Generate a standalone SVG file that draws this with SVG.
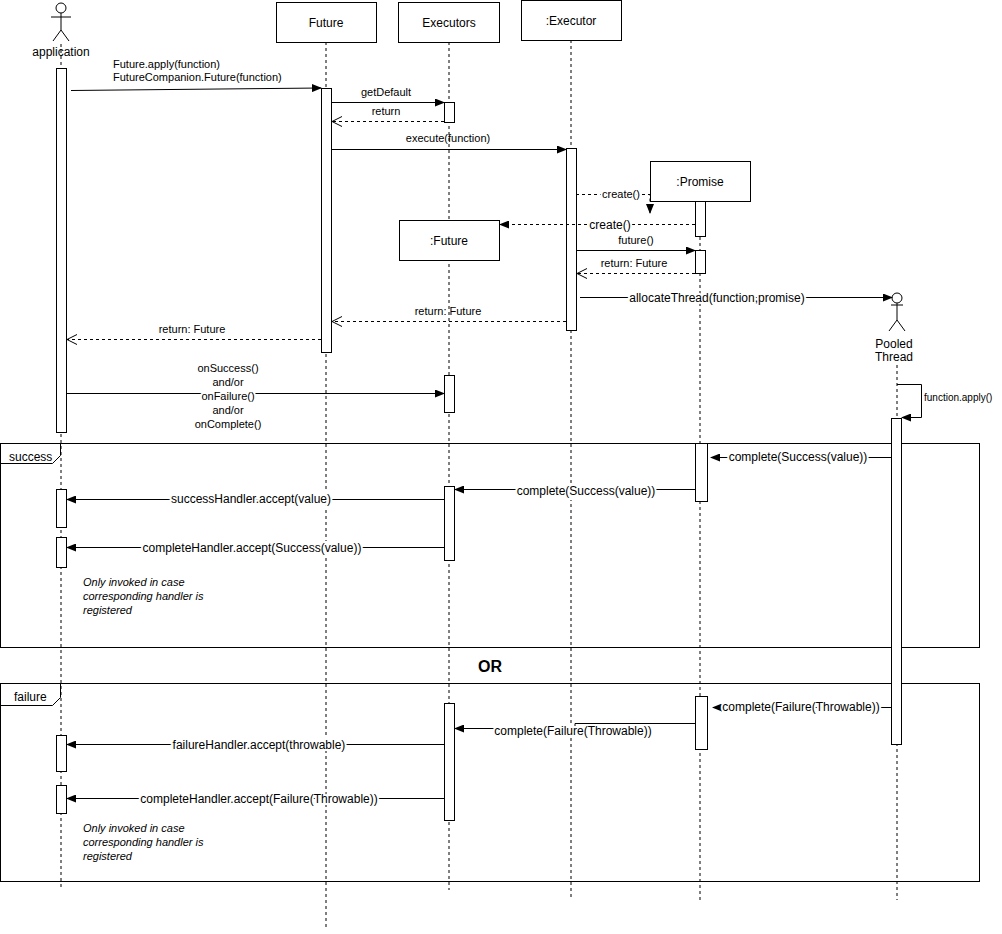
<svg xmlns="http://www.w3.org/2000/svg" width="1002" height="934" viewBox="0 0 1002 934">
<style>
text{font-family:"Liberation Sans",Arial,sans-serif;font-size:11px;fill:#000}
.b{font-size:12px}
.m{text-anchor:middle}
.bg{paint-order:stroke;stroke:#fff;stroke-width:4px}
.it{font-style:italic}
.box{fill:#fff;stroke:#000;stroke-width:1}
.ll{stroke:#000;stroke-dasharray:3,3;fill:none}
.s{stroke:#000;fill:none}
.d{stroke:#000;fill:none;stroke-dasharray:3,3}
</style>
<defs>
<marker id="f" markerWidth="10" markerHeight="8" refX="9" refY="4" orient="auto" markerUnits="userSpaceOnUse"><path d="M0,0L10,4L0,8z" fill="#000"/></marker>
<marker id="o" markerWidth="12" markerHeight="12" refX="10" refY="5" orient="auto" markerUnits="userSpaceOnUse"><path d="M0,0L10,5L0,10" fill="none" stroke="#000" stroke-dasharray="none"/></marker>
</defs>
<rect width="1002" height="934" fill="#fff"/>
<g id="lifelines">
<path class="ll" d="M61,44V890M326,42V930M449,42V890M571,40V148M571,330V900M700,201V900M897,365V900"/>
</g>
<g id="frames">
<g id="success"><rect class="s" x="0.5" y="443.5" width="979" height="204"/><path class="s" d="M0.5,463.5H52.5L60.5,455.5V443.5"/><text x="9" y="461" class="b">success</text></g>
<g id="failure"><rect class="s" x="0.5" y="683.5" width="979" height="198"/><path class="s" d="M0.5,705.5H52.5L60.5,697.5V683.5"/><text x="14" y="701" class="b">failure</text></g>
<text x="490" y="672" class="m" style="font-weight:bold;font-size:16px">OR</text>
</g>
<g id="application"><circle class="box" cx="61" cy="8" r="5"/><path class="s" d="M61,13V30M51,17H71M61,30L53,41M61,30L69,41"/><text x="61" y="56" class="m b">application</text></g>
<g id="future"><rect class="box" x="276.5" y="2.5" width="100" height="40"/><text x="326" y="27" class="m b">Future</text></g>
<g id="executors"><rect class="box" x="398.5" y="2.5" width="101" height="40"/><text x="449" y="27" class="m b">Executors</text></g>
<g id="executor"><rect class="box" x="521.5" y="0.5" width="100" height="40"/><text x="571" y="25" class="m b">:Executor</text></g>
<g id="promise"><rect class="box" x="650.5" y="161.5" width="100" height="40"/><text x="700" y="186" class="m b">:Promise</text></g>
<g id="future2"><rect class="box" x="399.5" y="220.5" width="100" height="40"/><text x="449" y="245" class="m b">:Future</text></g>
<g id="pooled"><circle class="box" cx="897" cy="298" r="5"/><path class="s" d="M891,305H903M897,303V320M897,320L889,331M897,320L905,331"/><text x="894" y="348" class="m b">Pooled</text><text x="894" y="361" class="m b">Thread</text></g>
<g id="activations" class="box">
<rect class="box" x="56.5" y="68.5" width="10" height="364"/>
<rect class="box" x="321.5" y="88.5" width="10" height="264"/>
<rect class="box" x="444.5" y="102.5" width="10" height="20"/>
<rect class="box" x="566.5" y="148.5" width="10" height="182"/>
<rect class="box" x="695.5" y="201.5" width="10" height="35"/>
<rect class="box" x="695.5" y="250.5" width="10" height="23"/>
<rect class="box" x="444.5" y="375.5" width="10" height="37"/>
<rect class="box" x="891.5" y="418.5" width="10" height="326"/>
<rect class="box" x="695.5" y="443.5" width="12" height="58"/>
<rect class="box" x="444.5" y="486.5" width="10" height="74"/>
<rect class="box" x="56.5" y="489.5" width="10" height="38"/>
<rect class="box" x="56.5" y="537.5" width="10" height="30"/>
<rect class="box" x="695.5" y="696.5" width="12" height="53"/>
<rect class="box" x="444.5" y="703.5" width="10" height="117"/>
<rect class="box" x="56.5" y="735.5" width="10" height="36"/>
<rect class="box" x="56.5" y="785.5" width="10" height="28"/>
</g>
<g id="connectors">
<path class="s" d="M71,90.5L321,88" marker-end="url(#f)"/>
<text x="113" y="68">Future.apply(function)</text><text x="113" y="81">FutureCompanion.Future(function)</text>
<path class="s" d="M331,102.5H444" marker-end="url(#f)"/><text x="386" y="96" class="m">getDefault</text>
<path class="d" d="M444,121.5H332" marker-end="url(#o)"/><text x="386" y="115" class="m">return</text>
<path class="s" d="M331,149.5H566" marker-end="url(#f)"/><text x="448" y="142" class="m">execute(function)</text>
<path class="d" d="M576,194.5H650V213" marker-end="url(#f)"/><text x="621" y="198" class="m bg">create()</text>
<path class="d" d="M695,224.5H500" marker-end="url(#f)"/><text x="610" y="229" class="m bg b">create()</text>
<path class="s" d="M576,250.5H695" marker-end="url(#f)"/><text x="636" y="244" class="m">future()</text>
<path class="d" d="M695,273.5H577" marker-end="url(#o)"/><text x="634" y="267" class="m">return: Future</text>
<path class="s" d="M580,297.5H892" marker-end="url(#f)"/><text x="717" y="302" class="m bg b">allocateThread(function,promise)</text>
<path class="d" d="M566,321.5H332" marker-end="url(#o)"/><text x="448" y="315" class="m">return: Future</text>
<path class="d" d="M321,339.5H67" marker-end="url(#o)"/><text x="192" y="333" class="m">return: Future</text>
<path class="s" d="M66,393.5H444" marker-end="url(#f)"/>
<g class="m b"><text x="228" y="372" class="m bg">onSuccess()</text><text x="228" y="386" class="m bg">and/or</text><text x="228" y="400" class="m bg">onFailure()</text><text x="228" y="414" class="m bg">and/or</text><text x="228" y="428" class="m bg">onComplete()</text></g>
<path class="s" d="M897,384.5H921.5V417.5H902" marker-end="url(#f)"/><text x="924" y="401" style="font-size:10px">function.apply()</text>
<path class="s" d="M891,457.5H711" marker-end="url(#f)"/><text x="798" y="461" class="m bg b">complete(Success(value))</text>
<path class="s" d="M695,489.5H455" marker-end="url(#f)"/><text x="586" y="495" class="m bg b">complete(Success(value))</text>
<path class="s" d="M444,499.5H67" marker-end="url(#f)"/><text x="251" y="503" class="m bg b">successHandler.accept(value)</text>
<path class="s" d="M444,547.5H67" marker-end="url(#f)"/><text x="252" y="552" class="m bg b">completeHandler.accept(Success(value))</text>
<path class="s" d="M891,707.5H713" marker-end="url(#f)"/><text x="801" y="711" class="m bg b">complete(Failure(Throwable))</text>
<path class="s" d="M695,723.5H575V728.5H455" marker-end="url(#f)"/><text x="573" y="735" class="m bg b">complete(Failure(Throwable))</text>
<path class="s" d="M444,744.5H67" marker-end="url(#f)"/><text x="259" y="749" class="m bg b">failureHandler.accept(throwable)</text>
<path class="s" d="M444,798.5H67" marker-end="url(#f)"/><text x="259" y="803" class="m bg b">completeHandler.accept(Failure(Throwable))</text>
</g>
<g id="notes" class="it">
<text x="83" y="586" class="it">Only invoked in case</text><text x="83" y="600" class="it">corresponding handler is</text><text x="83" y="614" class="it">registered</text>
<text x="83" y="832" class="it">Only invoked in case</text><text x="83" y="846" class="it">corresponding handler is</text><text x="83" y="860" class="it">registered</text>
</g>
</svg>
